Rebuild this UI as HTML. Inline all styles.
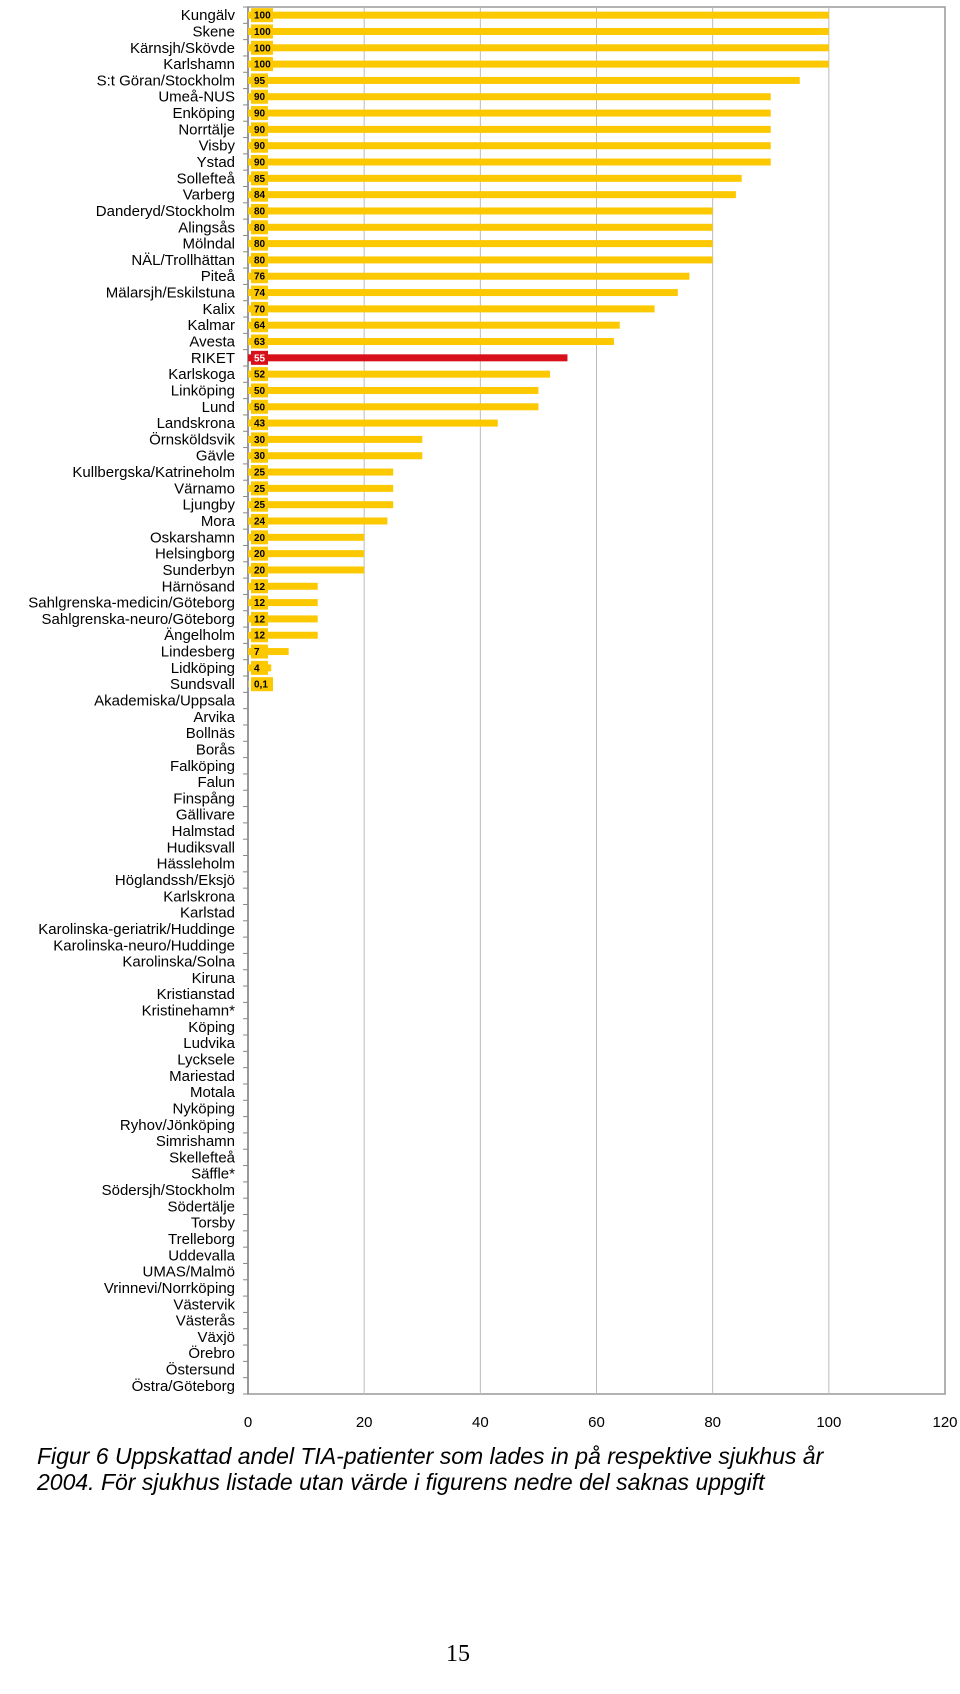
<!DOCTYPE html>
<html><head><meta charset="utf-8">
<style>
body{margin:0;background:#fff;width:960px;height:1694px;overflow:hidden;font-family:"Liberation Sans",Arial,sans-serif;}
svg{position:absolute;left:0;top:0}
.cap{position:absolute;left:37px;top:1443px;font-style:italic;font-size:23px;line-height:26px;color:#000;width:800px}
.pg{position:absolute;left:446px;top:1641px;font-family:"Liberation Serif",serif;font-size:24px}
</style></head><body>
<svg id="chart" width="960" height="1694"></svg>
<div class="cap">Figur 6 Uppskattad andel TIA-patienter som lades in på respektive sjukhus år 2004. För sjukhus listade utan värde i figurens nedre del saknas uppgift</div>
<div class="pg">15</div>
<script>
const categories=["Kungälv","Skene","Kärnsjh/Skövde","Karlshamn","S:t Göran/Stockholm","Umeå-NUS","Enköping","Norrtälje","Visby","Ystad","Sollefteå","Varberg","Danderyd/Stockholm","Alingsås","Mölndal","NÄL/Trollhättan","Piteå","Mälarsjh/Eskilstuna","Kalix","Kalmar","Avesta","RIKET","Karlskoga","Linköping","Lund","Landskrona","Örnsköldsvik","Gävle","Kullbergska/Katrineholm","Värnamo","Ljungby","Mora","Oskarshamn","Helsingborg","Sunderbyn","Härnösand","Sahlgrenska-medicin/Göteborg","Sahlgrenska-neuro/Göteborg","Ängelholm","Lindesberg","Lidköping","Sundsvall","Akademiska/Uppsala","Arvika","Bollnäs","Borås","Falköping","Falun","Finspång","Gällivare","Halmstad","Hudiksvall","Hässleholm","Höglandssh/Eksjö","Karlskrona","Karlstad","Karolinska-geriatrik/Huddinge","Karolinska-neuro/Huddinge","Karolinska/Solna","Kiruna","Kristianstad","Kristinehamn*","Köping","Ludvika","Lycksele","Mariestad","Motala","Nyköping","Ryhov/Jönköping","Simrishamn","Skellefteå","Säffle*","Södersjh/Stockholm","Södertälje","Torsby","Trelleborg","Uddevalla","UMAS/Malmö","Vrinnevi/Norrköping","Västervik","Västerås","Växjö","Örebro","Östersund","Östra/Göteborg"];
const values=[100,100,100,100,95,90,90,90,90,90,85,84,80,80,80,80,76,74,70,64,63,55,52,50,50,43,30,30,25,25,25,24,20,20,20,12,12,12,12,7,4,0.1];
const valueLabels=["100","100","100","100","95","90","90","90","90","90","85","84","80","80","80","80","76","74","70","64","63","55","52","50","50","43","30","30","25","25","25","24","20","20","20","12","12","12","12","7","4","0,1"];
const xTicks=[0,20,40,60,80,100,120];
const highlight="RIKET";

const svg=document.getElementById('chart');
const NS='http://www.w3.org/2000/svg';
const L=248,R=945,T=7,B=1394;
const xMax=120;
const x=v=>L+(v/xMax)*(R-L);
const step=(B-T)/categories.length;
const yc=i=>T+step*(i+0.5);
function mk(t,a){const e=document.createElementNS(NS,t);for(const k in a)e.setAttribute(k,a[k]);svg.appendChild(e);return e;}
let e=mk('rect',{x:L,y:T,width:R-L,height:B-T,fill:'none',stroke:'#999','stroke-width':1.5});


xTicks.forEach(t=>{
  if(t>0&&t<xMax){const g=mk('line',{x1:x(t),x2:x(t),y1:T,y2:B,stroke:'#bbb','stroke-width':1});
  
  }
  const tl=mk('text',{x:x(t),y:1427,'text-anchor':'middle','font-size':15,fill:'#000'});
  tl.textContent=t;
  
  
});
e=mk('line',{x1:L,x2:L,y1:T,y2:B,stroke:'#888','stroke-width':1.5});


for(let i=0;i<=categories.length;i++){
  const tk=mk('line',{x1:L-5,x2:L,y1:T+step*i,y2:T+step*i,stroke:'#888','stroke-width':1});
  
  
}
categories.forEach((c,i)=>{
  const t=mk('text',{x:235,y:yc(i)+5,'text-anchor':'end','font-size':15,fill:'#000'});
  t.textContent=c;
  
  
  if(i<values.length){
    const col=c===highlight?'#d7101a':'#fcc800';
    const b=mk('rect',{x:L,y:yc(i)-3.5,width:x(values[i])-L,height:7,fill:col});
    
    
    const bx=mk('rect',{x:L+3,y:yc(i)-7,width:valueLabels[i].length>2?22:17,height:14,fill:col});
    
    
    const vt=mk('text',{x:L+6,y:yc(i)+3.5,'font-size':10,'font-weight':'bold',fill:c===highlight?'#fff':'#000'});
    vt.textContent=valueLabels[i];
    
    
  }
});
</script>
</body></html>
